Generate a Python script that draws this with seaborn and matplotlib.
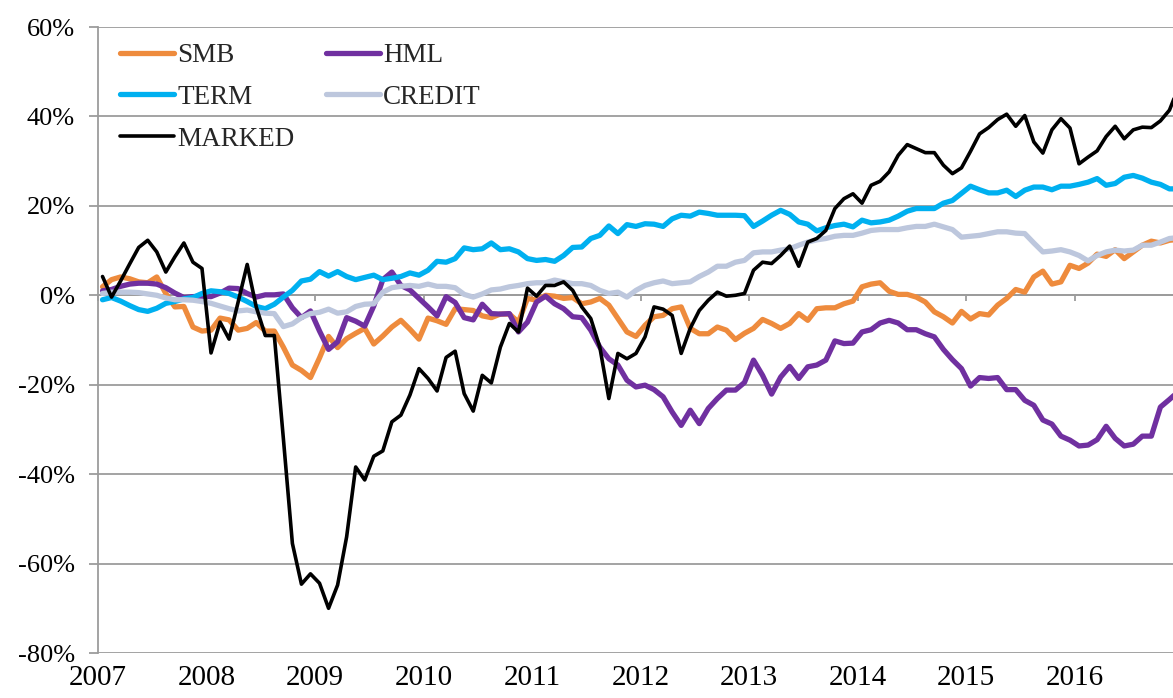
import numpy as np
import pandas as pd
import matplotlib
matplotlib.use("Agg")
import matplotlib.pyplot as plt
import seaborn as sns
from matplotlib.ticker import PercentFormatter, MultipleLocator

# ---------------- data (monthly cumulative returns, %, Jan 2007 - Dec 2016) ----------------
year_labels = [str(y) for y in range(2007, 2017)]
series_names = ["SMB", "HML", "TERM", "CREDIT", "MARKED"]

smb = [1.9, 3.5, 4.1, 3.7, 3.0, 2.8, 4.1, 0.4, -2.6, -2.5, -7.1, -8.0,
       -7.8, -5.1, -5.5, -7.8, -7.4, -6.1, -8.0, -8.0, -11.6, -15.6, -16.8, -18.4,
       -14.0, -9.2, -11.7, -9.7, -8.5, -7.4, -10.9, -9.1, -7.1, -5.6, -7.6, -9.8,
       -5.1, -5.7, -6.5, -3.0, -3.2, -3.4, -4.6, -5.0, -4.2, -4.2, -6.0, -0.7,
       -1.1, 0.0, -0.2, -0.7, -0.5, -1.9, -1.5, -0.7, -2.2, -5.2, -8.2, -9.2,
       -6.7, -4.8, -4.5, -3.0, -2.6, -7.4, -8.6, -8.6, -7.1, -7.8, -9.9, -8.5,
       -7.4, -5.4, -6.3, -7.4, -6.3, -4.1, -5.6, -3.0, -2.8, -2.8, -1.9, -1.3,
       1.9, 2.5, 2.8, 0.9, 0.2, 0.2, -0.4, -1.5, -3.7, -4.8, -6.2, -3.6,
       -5.3, -4.1, -4.4, -2.2, -0.7, 1.3, 0.7, 4.1, 5.4, 2.5, 3.0, 6.7,
       6.0, 7.2, 9.2, 8.7, 10.2, 8.2, 9.7, 11.2, 12.1, 11.7, 12.3, 12.5]

hml = [1.0, 1.3, 2.0, 2.5, 2.7, 2.7, 2.5, 1.7, 0.5, -0.5, -0.3, -0.2,
       -0.3, 0.5, 1.6, 1.5, 0.4, -0.4, 0.1, 0.1, 0.3, -2.8, -5.0, -3.5,
       -8.0, -12.1, -10.4, -5.0, -5.8, -6.9, -2.4, 3.5, 5.2, 2.2, 1.2, -0.7,
       -2.6, -4.6, -0.3, -1.6, -5.0, -5.5, -2.0, -4.1, -4.2, -4.1, -8.2, -6.0,
       -1.5, -0.2, -1.9, -3.0, -4.8, -5.0, -7.8, -11.6, -14.2, -15.6, -19.0, -20.5,
       -20.1, -21.1, -22.7, -26.1, -29.1, -25.7, -28.7, -25.3, -23.1, -21.2, -21.2, -19.5,
       -14.5, -17.9, -22.1, -18.3, -15.9, -18.6, -16.0, -15.6, -14.5, -10.2, -10.8, -10.7,
       -8.2, -7.7, -6.2, -5.6, -6.2, -7.7, -7.7, -8.6, -9.3, -12.1, -14.4, -16.4,
       -20.3, -18.4, -18.6, -18.4, -21.1, -21.1, -23.5, -24.6, -27.9, -28.8, -31.5, -32.4,
       -33.7, -33.5, -32.3, -29.3, -32.0, -33.7, -33.3, -31.5, -31.5, -25.0, -23.3, -21.5]

term = [-1.0, -0.5, -1.3, -2.3, -3.2, -3.6, -2.9, -1.8, -1.4, -0.8, -0.5, 0.4,
        1.0, 0.8, 0.4, -0.4, -1.4, -2.5, -3.0, -2.0, -0.4, 1.1, 3.2, 3.6,
        5.3, 4.3, 5.3, 4.2, 3.5, 4.0, 4.5, 3.5, 3.8, 4.2, 5.0, 4.5,
        5.6, 7.6, 7.4, 8.2, 10.6, 10.2, 10.4, 11.7, 10.2, 10.4, 9.7, 8.2,
        7.8, 8.0, 7.6, 8.9, 10.7, 10.8, 12.7, 13.4, 15.5, 13.8, 15.8, 15.4,
        16.0, 15.9, 15.4, 17.1, 17.9, 17.7, 18.6, 18.3, 17.9, 17.9, 17.9, 17.8,
        15.4, 16.6, 17.9, 19.0, 18.1, 16.4, 15.9, 14.4, 15.1, 15.6, 15.9, 15.3,
        16.8, 16.2, 16.4, 16.8, 17.7, 18.8, 19.4, 19.4, 19.4, 20.6, 21.2, 22.8,
        24.4, 23.6, 22.9, 22.9, 23.5, 22.1, 23.5, 24.2, 24.2, 23.6, 24.4, 24.4,
        24.8, 25.3, 26.1, 24.6, 25.0, 26.4, 26.8, 26.2, 25.3, 24.8, 23.8, 23.8]

credit = [0.4, 0.7, 0.7, 0.7, 0.6, 0.3, 0.0, -0.6, -1.0, -1.0, -1.1, -1.4,
          -1.8, -2.4, -3.0, -3.5, -3.3, -3.7, -4.0, -4.1, -7.0, -6.4, -5.0, -4.1,
          -3.8, -3.1, -4.0, -3.7, -2.5, -2.0, -1.9, 0.7, 1.7, 2.0, 2.2, 2.0,
          2.5, 2.0, 2.0, 1.7, 0.2, -0.4, 0.3, 1.2, 1.4, 1.9, 2.2, 2.6,
          2.8, 2.8, 3.4, 3.0, 2.6, 2.6, 2.2, 1.1, 0.4, 0.7, -0.4, 1.1,
          2.2, 2.8, 3.2, 2.6, 2.8, 3.0, 4.2, 5.2, 6.5, 6.5, 7.4, 7.8,
          9.5, 9.7, 9.7, 10.1, 10.4, 11.2, 11.9, 12.4, 12.7, 13.2, 13.4, 13.4,
          13.9, 14.5, 14.7, 14.7, 14.7, 15.1, 15.4, 15.4, 15.9, 15.3, 14.7, 13.0,
          13.2, 13.4, 13.8, 14.2, 14.2, 13.9, 13.8, 11.7, 9.7, 9.9, 10.2, 9.7,
          8.9, 7.7, 8.9, 9.7, 10.1, 9.9, 10.1, 11.2, 11.2, 11.9, 12.7, 12.9]

marked = [4.2, -0.4, 3.2, 7.0, 10.7, 12.3, 9.7, 5.2, 8.6, 11.7, 7.4, 6.0,
          -12.9, -6.0, -9.8, -1.5, 6.9, -2.6, -9.0, -9.0, -32.0, -55.5, -64.6, -62.3,
          -64.4, -70.0, -64.8, -54.0, -38.4, -41.3, -36.0, -34.8, -28.3, -26.8, -22.3, -16.4,
          -18.6, -21.4, -13.9, -12.5, -22.0, -25.9, -17.9, -19.6, -11.6, -6.3, -8.2, 1.6,
          -0.2, 2.2, 2.2, 3.0, 1.1, -2.6, -5.2, -11.6, -23.1, -13.0, -14.2, -13.0,
          -9.3, -2.6, -3.1, -4.5, -13.0, -7.4, -3.4, -1.1, 0.7, -0.2, 0.0, 0.4,
          5.6, 7.4, 7.1, 8.9, 11.0, 6.5, 11.9, 12.7, 14.5, 19.4, 21.6, 22.7,
          20.6, 24.6, 25.5, 27.6, 31.3, 33.7, 32.8, 31.9, 31.9, 29.1, 27.2, 28.5,
          32.2, 36.1, 37.5, 39.3, 40.5, 37.8, 40.2, 34.3, 31.8, 37.0, 39.5, 37.4,
          29.4, 30.9, 32.3, 35.5, 37.8, 35.0, 37.0, 37.6, 37.5, 39.0, 41.4, 46.5]

# ---------------- styling ----------------
colors = {"SMB": "#EE8B3D", "HML": "#7030A0", "TERM": "#00B0F0",
          "CREDIT": "#BDC7DD", "MARKED": "#000000"}
widths = {"SMB": 3.8, "HML": 3.8, "TERM": 3.8, "CREDIT": 3.8, "MARKED": 2.6}
grid_col = "#9C9C9C"

sns.set_theme(style="white")
plt.rcParams["font.family"] = ["Liberation Serif", "DejaVu Serif"]
plt.rcParams["axes.unicode_minus"] = False

W, H = 1173, 698
fig = plt.figure(figsize=(W / 100, H / 100), dpi=100)
fig.patch.set_facecolor("white")
# axes spans 120 monthly categories; right end slightly beyond the picture edge
ax = fig.add_axes([98 / W, 1 - 653 / H, 1085 / W, 626 / H])
ax.set_facecolor("white")

n = len(smb)
df = pd.DataFrame({"month": np.arange(n) + 0.5, "SMB": smb, "HML": hml,
                   "TERM": term, "CREDIT": credit, "MARKED": marked})
long = df.melt(id_vars="month", var_name="series", value_name="value")

for i, name in enumerate(series_names):
    sub = long[long["series"] == name]
    sns.lineplot(data=sub, x="month", y="value", ax=ax, color=colors[name],
                 linewidth=widths[name], legend=False, zorder=3 + i,
                 solid_joinstyle="round", solid_capstyle="round")

ax.set_xlim(0, 120)
ax.set_ylim(-80, 60)
ax.set_xlabel("")
ax.set_ylabel("")

# y axis
ax.yaxis.set_major_locator(MultipleLocator(20))
ax.yaxis.set_major_formatter(PercentFormatter(xmax=100, decimals=0))
ax.tick_params(axis="y", length=6.5, width=1.3, color=grid_col, pad=10,
               labelsize=19, labelcolor="black", left=True)
ax.grid(axis="y", color=grid_col, linewidth=1.3, zorder=0)
ax.grid(axis="x", visible=False)

# x axis: line and tick marks at 0 %, labels at the bottom
ax.spines["bottom"].set_position(("data", 0))
ax.spines["bottom"].set_color(grid_col)
ax.spines["bottom"].set_linewidth(1.3)
ax.spines["bottom"].set_zorder(2)
ax.spines["left"].set_color(grid_col)
ax.spines["left"].set_linewidth(1.3)
ax.spines["top"].set_visible(False)
ax.spines["right"].set_visible(False)
ax.set_xticks(np.arange(0, 120, 12))
ax.tick_params(axis="x", length=4.5, width=1.3, color=grid_col, direction="out",
               labelbottom=False, bottom=True)

sec = ax.secondary_xaxis(0.0)
sec.set_xticks(np.arange(0, 120, 12), labels=year_labels)
sec.tick_params(axis="x", length=0, pad=8.5, labelsize=21, labelcolor="black")
sec.spines["bottom"].set_visible(False)

# legend (row-wise order SMB, HML / TERM, CREDIT / MARKED)
order = ["SMB", "TERM", "MARKED", "HML", "CREDIT"]
leg_handles = [plt.Line2D([], [], color=colors[k], linewidth=widths[k]) for k in order]
ax.legend(leg_handles, order, loc="upper left", ncol=2, frameon=False,
          bbox_to_anchor=(22 / 1085, 1 - 16 / 626), borderaxespad=0, borderpad=0,
          fontsize=19.5, handlelength=2.0, handletextpad=0.12,
          columnspacing=1.15, labelspacing=0.62)

fig.savefig("out.png", dpi=100, facecolor="white")
